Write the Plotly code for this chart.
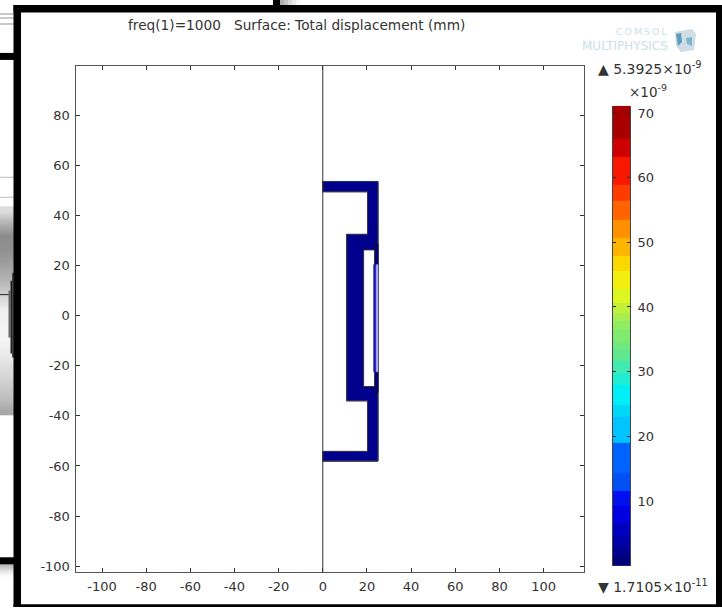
import plotly.graph_objects as go

W, H = 722, 609
FONT = "DejaVu Sans"
TXT = "#333333"

x_ticks = [-100, -80, -60, -40, -20, 0, 20, 40, 60, 80, 100]
x_labels = ["-100", "-80", "-60", "-40", "-20", "0", "20", "40", "60", "80", "100"]
y_ticks = [-100, -80, -60, -40, -20, 0, 20, 40, 60, 80]
y_labels = ["-100", "-80", "-60", "-40", "-20", "0", "20", "40", "60", "80"]
cb_ticks = [10, 20, 30, 40, 50, 60, 70]

body_x = [0, 25, 25, 0, 0, 20.3, 20.3, 10.8, 10.8, 20.3, 20.3, 0, 0]
body_y = [53.5, 53.5, -58, -58, -54.2, -54.2, -34, -34, 32.4, 32.4, 49.4, 49.4, 53.5]
void_x = [18.5, 23.6, 23.6, 18.5, 18.5]
void_y = [26.2, 26.2, -28.3, -28.3, 26.2]
film_x = [23, 25, 25, 23, 23]
film_y = [20.3, 20.3, -22.4, -22.4, 20.3]
stripe_x = [24.2, 25, 25, 24.2, 24.2]
stripe_y = [20.3, 20.3, -22.4, -22.4, 20.3]
layer_x = [23.6, 25, 25, 23.6, 23.6]
layer_y = [28.7, 28.7, -30.7, -30.7, 28.7]

bar_x_edges = [0, 5, 10, 15, 20, 25]
top_bar_y = [49.4, 53.5]
bot_bar_y = [-58, -54.2]
top_bar_colors = ["#0000B4", "#0000B4", "#0000AA", "#00009C", "#00008C"]
bot_bar_colors = ["#0000AE", "#0000B4", "#0000AA", "#00009C", "#00008C"]

band_edges = [-0.1, 1.44, 2.99, 4.64, 6.65, 9.17, 11.5, 14.4, 19.06, 23.08, 24.9, 28.0, 29.83, 31.6, 33.3, 34.67,
              36.4, 37.8, 39.15, 40.65, 42.8, 45.64, 47.96, 50.7, 53.5, 56.4, 58.9, 63.2, 65.95, 71.1]
band_colors = ["#000078", "#000090", "#0000A8", "#0000C0", "#0000E0", "#0010F0", "#0050F5", "#0062FF",
               "#00C4FF", "#00D8F8", "#00EEF5", "#20EED0", "#40EAB0", "#60E890", "#70E880", "#80EA70", "#90EC60",
               "#A8EE50", "#C0F038", "#DDF620", "#F2EE10", "#FAD800", "#FFB400", "#FF9000", "#FF6400", "#FF3C00",
               "#F81800", "#CE0000", "#A80000"]

left_grad_y = [212, 222, 236, 250, 265, 280, 295, 310, 340, 360, 380, 402, 412]
left_grad_v = [221, 184, 140, 144, 160, 180, 208, 240, 244, 230, 212, 188, 168]
low_grad_y = [565, 570, 574, 578]
low_grad_v = [168, 205, 235, 252]
top_grad_x = [280, 284, 288, 292, 296]
top_grad_c = ["#B0B0B0", "#C4C4C4", "#D8D8D8", "#E8E8E8", "#F6F6F6"]

Y_FIT = 1.002


def px(x):
    return x / W


def py(y):
    return max(0.0, 1 - y * Y_FIT / H)


fig = go.Figure()


def stepped(colors):
    n = len(colors)
    s = []
    for i, c in enumerate(colors):
        s += [[i / n, c], [(i + 1) / n, c]]
    return s


fig.add_trace(go.Scatter(x=body_x, y=body_y, mode="lines", fill="toself", fillcolor="#00008C",
                         line=dict(color="#222244", width=1), hoverinfo="skip"))
for yy, cols in ((top_bar_y, top_bar_colors), (bot_bar_y, bot_bar_colors)):
    uniq = list(dict.fromkeys(cols))
    fig.add_trace(go.Heatmap(x=bar_x_edges, y=yy, z=[[uniq.index(c) for c in cols]], showscale=False,
                             colorscale=stepped(uniq), zmin=-0.5, zmax=len(uniq) - 0.5, hoverinfo="skip"))
fig.add_trace(go.Scatter(x=body_x, y=body_y, mode="lines", line=dict(color="#333355", width=1), hoverinfo="skip"))
fig.add_trace(go.Scatter(x=void_x, y=void_y, mode="lines", fill="toself", fillcolor="#FFFFFF",
                         line=dict(color="#333344", width=1), hoverinfo="skip"))
fig.add_trace(go.Scatter(x=layer_x, y=layer_y, mode="lines", fill="toself", fillcolor="#00008C",
                         line=dict(color="#111133", width=1), hoverinfo="skip"))
fig.add_trace(go.Scatter(x=film_x, y=film_y, mode="lines", fill="toself", fillcolor="#1818B0",
                         line=dict(color="#1818B0", width=0.5), hoverinfo="skip"))
fig.add_trace(go.Scatter(x=stripe_x, y=stripe_y, mode="lines", fill="toself", fillcolor="#B4B4E8",
                         line=dict(color="#B4B4E8", width=0.5), hoverinfo="skip"))
fig.add_trace(go.Scatter(x=[0, 0], y=[-102.4, 99.6], mode="lines", line=dict(color="#333333", width=1), hoverinfo="skip"))

n = len(band_colors)
fig.add_trace(go.Heatmap(x=[0, 1], y=band_edges, z=[[i] for i in range(n)], xaxis="x2", yaxis="y2",
                         colorscale=stepped(band_colors), zmin=-0.5, zmax=n - 0.5, showscale=False, hoverinfo="skip"))

gray_scale = [[0, "#000000"], [1, "#FFFFFF"]]
for yy, vv in ((left_grad_y, left_grad_v), (low_grad_y, low_grad_v)):
    fig.add_trace(go.Heatmap(x=[0, 14], y=yy, z=[[v, v] for v in vv], xaxis="x3", yaxis="y3", zsmooth="best",
                             colorscale=gray_scale, zmin=0, zmax=255, showscale=False, hoverinfo="skip"))

axis_common = dict(showgrid=False, zeroline=False, showline=True, linecolor="#555555", linewidth=1,
                   ticks="inside", ticklen=4, tickcolor="#333333", tickwidth=1, mirror="ticks",
                   tickfont=dict(family=FONT, size=13, color=TXT))

shapes = []


def rect(x0, y0, x1, y1, c, layer="above"):
    shapes.append(dict(type="rect", xref="paper", yref="paper", x0=px(x0), x1=px(x1), y0=py(y0), y1=py(y1),
                       fillcolor=c, line=dict(width=0), layer=layer))


# page behind the frame
for i, (xx, c) in enumerate(zip(top_grad_x, top_grad_c)):
    next_x = top_grad_x[i + 1] if i + 1 < len(top_grad_x) else 300
    rect(xx, 0, next_x, 5, c)
rect(0, 13, 14, 15, "#C8C8C8")
rect(0, 17, 14, 19, "#C8C8C8")
rect(0, 23, 14, 25, "#C8C8C8")
rect(0, 177, 14, 178, "#BBBBBB")
rect(0, 197, 14, 198, "#BBBBBB")
rect(0, 294.5, 9, 295.5, "#222222")
rect(8.5, 291, 10.5, 338, "#666666")
rect(10.5, 281, 12, 354, "#222222")
rect(12, 273, 14, 358, "#444444")
rect(0, 53, 14, 60, "#000000")
rect(0, 558, 14, 565, "#000000")
rect(273, 0, 280, 5, "#000000")
# frame
rect(13.5, 5, 722, 12.5, "#000000")
rect(13.5, 5, 21, 609, "#000000")
rect(13.5, 605, 722, 609, "#000000")
rect(716, 5, 722, 609, "#000000")


def path(points):
    return "M " + " L ".join(f"{px(a):.5f},{py(b):.5f}" for a, b in points) + " Z"


shapes.append(dict(type="path", xref="paper", yref="paper", path=path([(675, 32), (692, 29), (696, 34), (694, 50), (681, 52), (676, 46)]),
                   fillcolor="#CFDDE4", line=dict(width=0)))
shapes.append(dict(type="path", xref="paper", yref="paper", path=path([(676, 34), (681, 33), (682, 42), (678, 46)]),
                   fillcolor="#5C9DBE", line=dict(width=0)))
shapes.append(dict(type="path", xref="paper", yref="paper", path=path([(686, 38), (692, 37), (692, 46), (687, 44)]),
                   fillcolor="#7FB4CE", line=dict(width=0)))


def note(x, y, text, size=12, color=TXT, anchor="left"):
    return dict(xref="paper", yref="paper", x=px(x), y=py(y), text=text, showarrow=False, xanchor=anchor,
                yanchor="middle", font=dict(family=FONT, size=size, color=color), align="left", borderpad=0)


annotations = [
    note(296, 25, "freq(1)=1000   Surface: Total displacement (mm)", 13.7, TXT, "center"),
    note(597, 68, "▲ 5.3925×10<sup>-9</sup>", 14),
    note(628, 91, "×10<sup>-9</sup>", 13.5),
    note(597, 587, "▼ 1.7105×10<sup>-11</sup>", 14),
    note(668, 32, "C\u2009O\u2009M\u2009S\u2009O\u2009L", 9.5, "#CBE0EA", "right"),
    note(669, 46, "MULTIPHYSICS", 12, "#CBE0EA", "right"),
]

fig.update_layout(
    width=W, height=H, autosize=False, showlegend=False,
    margin=dict(l=0, r=0, t=0, b=0), paper_bgcolor="#FFFFFF", plot_bgcolor="#FFFFFF",
    xaxis=dict(domain=[px(75.5), px(584)], range=[-112, 118.3], tickvals=x_ticks, ticktext=x_labels, anchor="y",
               ticklabelstandoff=2, **axis_common),
    yaxis=dict(domain=[py(573), py(66)], range=[-102.4, 99.6], tickvals=y_ticks, ticktext=y_labels, anchor="x",
               ticklabelstandoff=2, **axis_common),
    xaxis2=dict(domain=[px(613), px(630)], range=[0, 1], showticklabels=False, ticks="", showgrid=False,
                zeroline=False, showline=False, anchor="y2"),
    yaxis2=dict(domain=[py(567), py(106)], range=[-0.1, 71.1], tickvals=cb_ticks, side="right", anchor="x2",
                showgrid=False, zeroline=False, showline=True, linecolor="#444444", linewidth=1, mirror="ticks",
                ticks="inside", ticklen=3, tickcolor="#222222", ticklabelstandoff=4,
                tickfont=dict(family=FONT, size=13, color=TXT)),
    xaxis3=dict(domain=[0, px(14)], range=[0, 14], visible=False, anchor="y3"),
    yaxis3=dict(domain=[0, 1], range=[H, 0], visible=False, anchor="x3"),
    shapes=shapes, annotations=annotations,
)

fig.write_html("out.html", config={"displayModeBar": False}, default_width=f"{W}px", default_height=f"{H}px",
               post_script="document.documentElement.style.margin='0';document.body.style.margin='0';document.body.style.overflow='hidden';")
